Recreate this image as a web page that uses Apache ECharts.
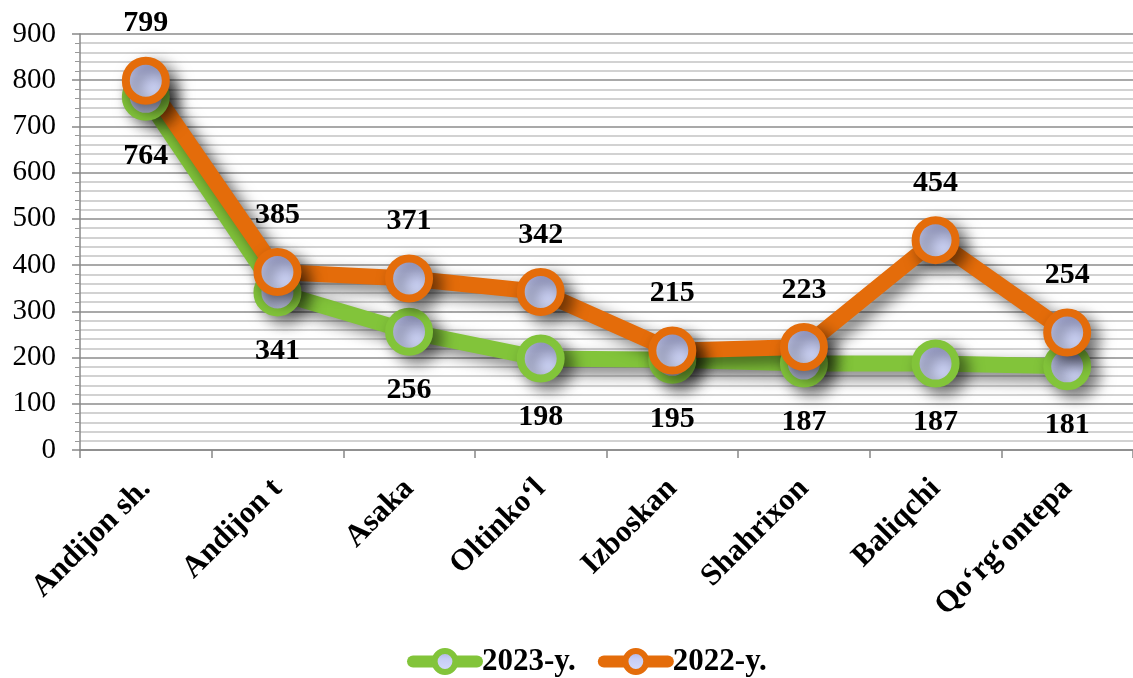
<!DOCTYPE html>
<html>
<head>
<meta charset="utf-8">
<script src="https://cdn.jsdelivr.net/npm/echarts@6/dist/echarts.min.js"></script>
<style>
  html, body { margin: 0; padding: 0; background: #fff; }
  #main { width: 1133px; height: 678px; }
</style>
</head>
<body>
<div id="main"></div>
<script type="text/javascript">
  // ma'lumotlar
  var districts = ['Andijon sh.', 'Andijon t', 'Asaka', 'Oltinko\u02BBl', 'Izboskan', 'Shahrixon', 'Baliqchi', 'Qo\u02BBrg\u02BBontepa'];
  var y2023 = [764, 341, 256, 198, 195, 187, 187, 181];
  var y2022 = [799, 385, 371, 342, 215, 223, 454, 254];
  var seriesNames = ['2023-y.', '2022-y.'];

  var chart = echarts.init(document.getElementById('main'), null, { renderer: 'canvas' });

  var serif = '"Liberation Serif", "Times New Roman", serif';
  var dotFill = new echarts.graphic.LinearGradient(0, 0, 0, 1, [
    { offset: 0, color: '#a0a4dc' },
    { offset: 0.4, color: '#c7cdf5' },
    { offset: 1, color: '#d9e0fd' }
  ]);

  function makeSeries(name, data, color, pos) {
    return {
      name: name,
      type: 'line',
      data: data,
      symbol: 'circle',
      symbolSize: 40,
      lineStyle: {
        color: color, width: 16,
        shadowColor: 'rgba(0,0,0,0.55)', shadowBlur: 16, shadowOffsetX: 8, shadowOffsetY: 7
      },
      itemStyle: {
        color: dotFill, borderColor: color, borderWidth: 8,
        shadowColor: 'rgba(0,0,0,0.5)', shadowBlur: 16, shadowOffsetX: 8, shadowOffsetY: 7
      },
      label: {
        show: true, position: pos, distance: pos === 'top' ? 18 : 20,
        color: '#000', fontFamily: serif, fontWeight: 'bold', fontSize: 30
      },
      emphasis: { disabled: true }
    };
  }

  chart.setOption({
    animation: false,
    legend: {
      top: 641,
      left: 402,
      itemWidth: 64,
      itemHeight: 26,
      itemGap: 22,
      lineStyle: { width: 12, cap: 'round' },
      itemStyle: { borderWidth: 6, shadowBlur: 0, shadowOffsetX: 0, shadowOffsetY: 0 },
      textStyle: { color: '#000', fontFamily: serif, fontWeight: 'bold', fontSize: 31 },
      data: seriesNames
    },
    grid: { left: 80, right: -3, top: 34, bottom: 228, containLabel: false },
    xAxis: {
      type: 'category',
      data: districts,
      boundaryGap: true,
      axisLine: { lineStyle: { color: '#888', width: 1.5 } },
      axisTick: { show: true, length: 8, lineStyle: { color: '#888', width: 1.5 } },
      axisLabel: {
        rotate: 45, margin: 34, interval: 0,
        color: '#000', fontFamily: serif, fontWeight: 'bold', fontSize: 31
      }
    },
    yAxis: {
      type: 'value',
      min: 0, max: 900, interval: 100,
      axisLine: { show: true, lineStyle: { color: '#888', width: 1.5 } },
      axisTick: { show: true, length: 8, lineStyle: { color: '#888', width: 1.5 } },
      minorTick: { show: true, splitNumber: 5, length: 5, lineStyle: { color: '#999' } },
      splitLine: { show: true, lineStyle: { color: '#8c8c8c', width: 1.5 } },
      minorSplitLine: { show: true, lineStyle: { color: '#c4c4c4', width: 1.5 } },
      axisLabel: { margin: 24, color: '#000', fontFamily: serif, fontSize: 29 }
    },
    series: [
      makeSeries(seriesNames[0], y2023, '#82c43a', 'bottom'),
      makeSeries(seriesNames[1], y2022, '#e46c0a', 'top')
    ]
  });
</script>
</body>
</html>
